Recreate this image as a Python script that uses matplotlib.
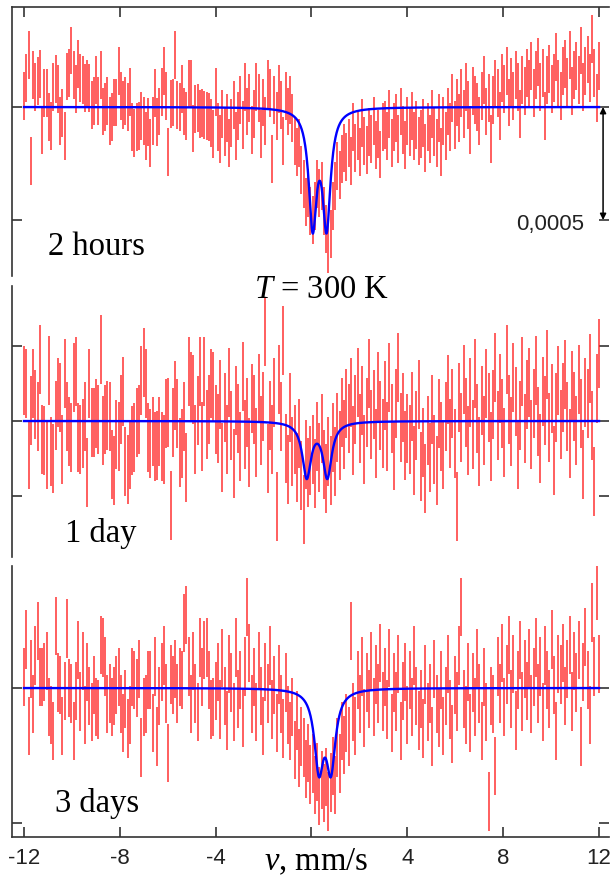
import numpy as np
import matplotlib
matplotlib.use("Agg")
import matplotlib.pyplot as plt

plt.rcParams['mathtext.fontset'] = 'custom'
plt.rcParams['mathtext.rm'] = 'Liberation Serif'
plt.rcParams['mathtext.it'] = 'Liberation Serif:italic'

# ---------------- data (relative transmission, arbitrary units per panel) ----------------
N_CH = 256
v_min, v_max = -12.0, 12.0

top_vals = [
    0.5, 1.3, 2.3, -2.4, 1.4, 0.9, 1.15, 1.45, -1.0, 0.6,
    0.6, -0.45, -0.85, 0.9, 1.25, 0.8, -0.6, -0.25, -1.3, 1.35,
    1.5, 2.5, 1.4, 0.8, 1.9, 1.3, 1.2, 0.85, 1.0, 0.85,
    0.1, 0.25, 1.2, 0.25, 1.4, -0.2, 0.0, 0.25, -0.6, -0.45,
    0.2, 0.2, 1.6, 0.5, 0.1, 0.25, 0.0, 0.65, -0.9, -1.15,
    -0.9, -0.85, -0.4, -0.6, -1.3, -0.65, -1.6, -0.6, 0.6, -0.65,
    -0.2, 0.65, 1.6, 0.5, -2.0, 0.15, 0.2, 2.3, 0.1, 0.0,
    0.8, -0.2, -0.4, 1.0, 1.0, -0.95, -0.1, -0.05, -0.3, -0.25,
    -0.35, -0.4, -0.45, -0.7, -1.2, 0.65,
    -0.9, -1.4, -0.3, -1.1, -0.5, -1.6, -0.7, 0.1, -1.3, -0.4, 0.3, -0.8, 0.9, -0.2, 0.4, -1.0,
    -0.3, 0.9, 0.4, -1.2, 0.2, -0.6, 1.0, 0.6, -2.3, 0.3, -0.4, 0.8, 0.1, -1.5, 0.5, -0.2,
    0.3, -0.5, -1.5, -2.0, -1.6, -2.8, -3.4, -4.2, -3.8, -4.6,
    -5.0, -4.4, -3.4, -3.8, -3.5, -4.6, -5.4, -6.3, -5.6, -4.4, -3.5, -2.6, -3.0, -2.3, -1.8, -2.2,
    -1.6, -2.4, -0.9, -1.8, -1.3, -2.0, -0.7, -1.5, -1.9, -1.1, -1.4, -0.6, -1.7, -1.2, -2.1, -0.9,
    -0.8, -1.3, -0.3, -1.6, -0.9, -0.5, -1.4, -0.2, -1.0, -1.7, -0.6, -1.1, -0.4, -1.3, -0.8, -1.5,
    -1.2, -0.7, -1.8, -0.9, -1.4, -0.3, -1.1, -1.6, -0.5, -2.0, -0.6, -1.3, -0.2, -0.9, 0.4, -0.8,
    0.2, -0.5, 0.6, -0.3, 0.9, 0.1, -1.0, 0.7, 0.3, 0.0, -0.6, 0.5, 1.2, -0.2, 0.4, -1.4,
    0.3, 1.0, 0.6, -0.4, 1.3, 0.8, 1.6, 0.2, 1.1, 0.5, 1.4, 0.9, -0.3, 1.2, 0.7, 1.5,
    1.0, 1.8, 0.6, 1.4, 2.0, 0.9, 1.5, -0.4, 1.2, 1.7, 0.8, 1.3, 2.2, 1.0, 0.5, 1.6,
    1.9, 1.1, 2.3, 0.7, 1.4, 1.8, 1.2, 2.5, 0.9, 1.6, 2.1, 1.3, 3.0, 1.5, 0.4, 1.8,
]

mid_vals = [
    2.7, 2.5, -2.2, 0.7, 2.5, 1.1, 0.3, 4.1, -1.2, -1.3,
    -2.2, 3.4, -2.0, -2.5, 0.4, 1.9, 1.6, -1.9, 3.2, 0.3,
    -0.7, -1.1, 2.9, 3.3, -1.1, -1.2, -0.8, 0.3, -3.4, 2.5,
    -0.1, -0.1, 0.5, 0.1, 4.8, -0.6, 0.1, 0.4, 0.3, -2.9,
    -3.3, -0.9, -1.0, 0.8, 2.0, -2.7, -3.2, -2.2, -1.3, -1.1,
    -0.1, 0.1, 2.7, 3.9, 2.5, -1.1, -1.5, -0.7, -1.7, -1.6,
    -0.7, -1.7, -1.9, 0.5, 0.6, -5.6, -0.1, 1.7, 0.5, -2.1,
    -1.5, 0.3, -3.1, 3.3, 2.3, 2.1, -1.2, 0.7, 3.3, -1.0,
    3.3, -0.2, 0.8, 2.5, 2.3, 0.1,
    -0.5, 1.8, -2.4, 0.9, -1.2, 2.6, -0.3, -2.8, 1.4, 0.2, -1.7, 3.0, -0.9, 0.6, -2.1, 1.5,
    0.8, -1.4, 2.2, -0.6, 1.0, 6.0, -2.5, 0.4, -1.2, 1.9, -5.7, 2.8, 0.3, 5.4, -1.8, -3.2,
    0.9, -2.0, -1.2, -3.1, -0.8, -3.6, -5.9, -2.2, -3.4, -2.6,
    -1.9, -3.5, -1.0, -2.4, -0.5, -2.9, -3.8, -2.0, -3.3, -1.1, -2.7, -0.4, -1.6, 0.6, -0.9, 1.2,
    0.2, 1.9, -1.3, 0.8, 2.6, -0.5, 1.4, -1.9, 0.6, 3.2, -0.2, 1.1, -1.5, 2.3, 0.4, -0.8,
    1.7, -1.0, 2.9, 0.2, -2.3, 1.2, 3.6, -0.4, 0.9, -1.6, -0.5, -1.2, 1.0, -2.6, -0.3, 1.8,
    -3.0, -1.4, -3.8, -0.6, -2.4, 0.8, -1.9, -3.3, 0.5, -1.0, -2.2, 0.3, 2.1, -0.8, 1.2, -1.5,
    -5.7, 1.6, -0.4, 2.8, 0.6, -1.3, 1.9, -0.9, 3.2, 0.2, -2.0, 1.4, -0.6, 2.5, 0.9, -1.7,
    1.1, 3.6, -0.3, 2.2, 0.5, -1.4, 4.1, 0.8, -0.7, 2.9, 1.3, -2.2, 0.4, 3.3, -0.5, 1.8,
    2.6, -0.9, 1.2, 3.4, 0.0, -1.8, 2.0, 0.7, 3.8, -0.4, 1.5, -2.6, 0.9, 2.7, -0.2, 1.6,
    3.1, 0.3, -1.5, 2.4, 1.0, -0.6, 2.8, 0.5, -2.9, 1.9, 1.2, 3.5, -0.3, -4.0, 2.2, 4.5,
]

bot_vals = [
    0.4, 1.8, -1.4, 0.7, -0.6, 1.2, 2.1, 0.4, 0.4, 0.6,
    1.0, -0.7, -1.0, -1.6, 2.3, 0.2, 0.1, -1.4, -0.1, 2.2,
    0.0, -0.2, -1.6, -0.1, 1.4, -0.5, 1.0, -1.0, 0.6, -0.3,
    -0.9, 0.1, -0.7, -0.8, 1.6, 1.5, 0.8, -0.6, -0.2, -0.7,
    -0.3, 0.1, 0.4, -0.6, -1.3, -0.4, -1.5, -1.0, 0.4, 0.3,
    0.0, 0.7, -2.2, -0.7, -0.6, 0.3, 0.3, -1.3, 0.8, -1.8,
    -0.3, 0.6, 1.2, -0.2, -2.4, 0.5, 0.1, 0.7, -0.2, 0.4,
    0.3, 2.4, 2.7, 0.8, -0.6, 1.0, -0.2, -0.9, 1.5, 0.4,
    1.4, 1.5, 0.3, -0.8, -0.7, -0.1,
    0.6, -0.8, 1.1, -0.3, -1.2, 0.9, 0.2, -0.9, 1.5, -0.4, 0.3, -1.1, 0.8, 3.0, 1.3, -0.6,
    0.4, -0.9, 1.0, -0.3, -1.4, 0.6, -0.2, 1.2, -0.8, 0.1, -1.3, 0.5, -0.6, -1.5, 0.2, -1.0,
    -1.6, -0.7, -2.3, -1.2, -2.6, -1.8, -2.2, -3.0, -2.4, -3.2,
    -2.8, -3.6, -3.1, -4.0, -3.4, -3.9, -3.3, -4.2, -3.5, -2.9, -3.6, -2.2, -2.8, -1.6, -2.1, -1.3,
    -1.8, 2.1, -0.9, -1.4, 0.3, -0.6, 0.8, -1.1, 0.2, -0.4, 1.0, -0.7, 0.5, -0.2, 1.3, -0.5,
    0.4, -0.8, 1.1, -1.3, 0.2, -0.5, 0.9, -1.6, -0.1, 0.6, -1.0, 0.3, -0.7, 1.2, -0.3, -1.2,
    -0.4, -1.5, 0.5, -0.9, -0.2, -1.8, 0.7, -0.6, -1.1, 0.3, -1.4, -0.3, 0.9, -0.8, -1.7, 0.1,
    -0.5, 1.2, 3.0, -0.4, -1.0, 0.6, -1.3, 0.2, -0.7, 1.1, -0.2, -1.6, 0.4, -0.9, -4.2, -0.3,
    -0.6, -2.9, 0.8, -0.2, 1.3, -0.7, 0.5, 1.6, -0.4, 0.9, -1.2, 0.3, 1.4, -0.5, 0.7, -0.1,
    1.1, -0.6, 0.4, 1.5, -0.2, 0.8, -0.9, 1.2, 0.3, -0.4, 1.8, 0.1, -1.6, 0.9, 0.5, 1.3,
    -0.3, 0.7, 1.6, -0.5, 1.0, 0.2, 1.4, -1.8, 0.6, 1.9, 0.3, -1.0, 2.8, 0.8, 3.6, 0.9,
]

errors = [1.06, 2.3, 1.08]           # half-length of error bars per panel
# Lorentzian doublet fit parameters per panel: (line1, line2, HWHM, depth)
fit_params = [
    (0.05, 0.63, 0.20, 5.06),
    (-0.20, 0.66, 0.22, 3.65),
    (0.31, 0.81, 0.23, 2.81),
]
panel_labels = ["2 hours", "1 day", "3 days"]
xtick_vals = [-12, -8, -4, 0, 4, 8, 12]
xtick_text = ["-12", "-8", "-4", "", "4", "8", "12"]

# ---------------- layout ----------------
W, H = 610, 879
fig = plt.figure(figsize=(W / 100, H / 100), dpi=100)

def fx(px):
    return px / W

def fy(py):
    return 1 - py / H

px_per_unit = 23.96
x_left = -12 - (24 - 12) / px_per_unit
x_right = 12 + (609 - 599) / px_per_unit

# (top px, bottom px, baseline px, px per y-unit, tick values)
panels = [
    (8, 277, 108, 22.6, [0, -5]),
    (287, 558, 422, 15.0, [5, 0, -5]),
    (567, 838, 689, 27.0, [0, -5]),
]

vel = np.linspace(v_min, v_max, N_CH)
vfit = np.linspace(v_min, v_max, 1500)
series = [top_vals, mid_vals, bot_vals]

def doublet(v, c1, c2, g, a):
    return -a / (1 + ((v - c1) / g) ** 2) - a / (1 + ((v - c2) / g) ** 2)

spine_col = '#333333'
axes = []
for k, (ptop, pbot, pbase, ppu, yt) in enumerate(panels):
    ax = fig.add_axes([fx(12), fy(pbot), fx(609) - fx(12), (pbot - ptop) / H])
    axes.append(ax)
    y = np.array(series[k])
    e = errors[k]
    ax.vlines(vel, y - e, y + e, color='#ff2222', lw=1.2, alpha=0.85, zorder=2)
    ax.plot(vfit, doublet(vfit, *fit_params[k]), color='#0000ff', lw=1.7, zorder=3)
    ax.set_xlim(x_left, x_right)
    ax.set_ylim(-(pbot - pbase) / ppu, (pbase - ptop) / ppu)
    ax.set_yticks(yt)
    ax.set_yticklabels([])
    for s in ax.spines.values():
        s.set_color(spine_col)
        s.set_linewidth(1.2)
    ax.spines['right'].set_visible(False)
    ax.tick_params(axis='y', direction='in', left=True, right=True, length=7,
                   width=1.2, color=spine_col)
    ax.set_xticks(xtick_vals)
    if k == 0:
        ax.spines['bottom'].set_visible(False)
        ax.tick_params(axis='x', direction='in', top=True, bottom=False,
                       labeltop=False, labelbottom=False, length=7, width=1.2,
                       color=spine_col)
    elif k == 1:
        ax.spines['bottom'].set_visible(False)
        ax.spines['top'].set_visible(False)
        ax.tick_params(axis='x', top=False, bottom=False, labelbottom=False)
    else:
        ax.spines['top'].set_visible(False)
        ax.set_xticklabels(xtick_text)
        ax.tick_params(axis='x', direction='in', top=False, bottom=True, length=7,
                       width=1.2, color=spine_col, pad=7, labelsize=16)
        for lab in ax.get_xticklabels():
            lab.set_fontfamily('Liberation Sans')
            lab.set_color('#222222')

# arrow showing 0,0005 in top panel
axes[0].annotate('', xy=(12.17, -5), xytext=(12.17, 0),
                 arrowprops=dict(arrowstyle='<|-|>', color='black', lw=1.1,
                                 shrinkA=0, shrinkB=0, mutation_scale=9),
                 annotation_clip=False)
fig.text(fx(516), fy(230), '0,0005', fontsize=16, family='Liberation Sans',
         color='#222222', va='baseline', ha='left')

serif = 'Liberation Serif'
label_pos = [(48, 255), (65, 542), (55, 812)]
for (lx, ly), txt in zip(label_pos, panel_labels):
    fig.text(fx(lx), fy(ly), txt, fontsize=23.5, family=serif, va='baseline', ha='left')

fig.text(fx(322), fy(298), r'$T$ = 300 K', fontsize=23.5, family=serif,
         va='baseline', ha='center')
fig.text(fx(316), fy(870), r'$v$, mm/s', fontsize=23.5, family=serif,
         va='baseline', ha='center')

fig.savefig('out.png', dpi=100)
